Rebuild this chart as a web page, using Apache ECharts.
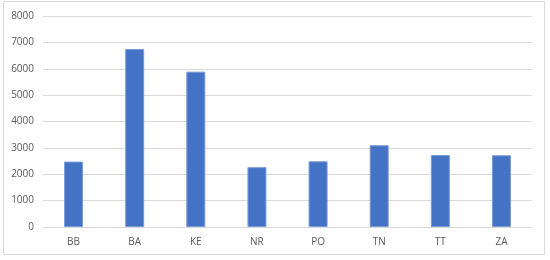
<!DOCTYPE html>
<html>
<head>
<meta charset="utf-8">
<script src="https://cdn.jsdelivr.net/npm/echarts@6/dist/echarts.min.js"></script>
<style>
  html, body { margin: 0; padding: 0; background: #fff; }
  #chart { width: 550px; height: 260px; }
</style>
</head>
<body>
<div id="chart"></div>
<script>
const categories = ['BB', 'BA', 'KE', 'NR', 'PO', 'TN', 'TT', 'ZA'];
const values = [2480, 6750, 5890, 2270, 2490, 3100, 2730, 2720];
const yTicks = { min: 0, max: 8000, interval: 1000 };

const myChart = echarts.init(document.getElementById('chart'));
const option = {
    animation: false,
    graphic: [{
        type: 'rect',
        shape: { x: 3.5, y: 1.5, width: 541, height: 253 },
        style: { fill: 'none', stroke: '#d9d9d9', lineWidth: 1 },
        silent: true
    }],
    grid: { left: 43, right: 18, top: 16, bottom: 33 },
    xAxis: {
        type: 'category',
        data: categories,
        axisTick: { show: false },
        axisLine: { lineStyle: { color: '#d9d9d9', width: 1 } },
        axisLabel: { color: '#595959', fontSize: 10, fontFamily: 'Open Sans', margin: 10 }
    },
    yAxis: {
        type: 'value',
        min: yTicks.min,
        max: yTicks.max,
        interval: yTicks.interval,
        axisLine: { show: false },
        axisTick: { show: false },
        splitLine: { lineStyle: { color: '#d9d9d9', width: 1 } },
        axisLabel: {
            color: '#595959', fontSize: 10, fontFamily: 'Open Sans', margin: 9,
            formatter: (v) => String(v)
        }
    },
    series: [{
        type: 'bar',
        data: values,
        barWidth: 19,
        itemStyle: { color: '#4472C4', borderColor: '#7b9bd6', borderWidth: 1 }
    }]
};
myChart.setOption(option);
</script>
</body>
</html>
